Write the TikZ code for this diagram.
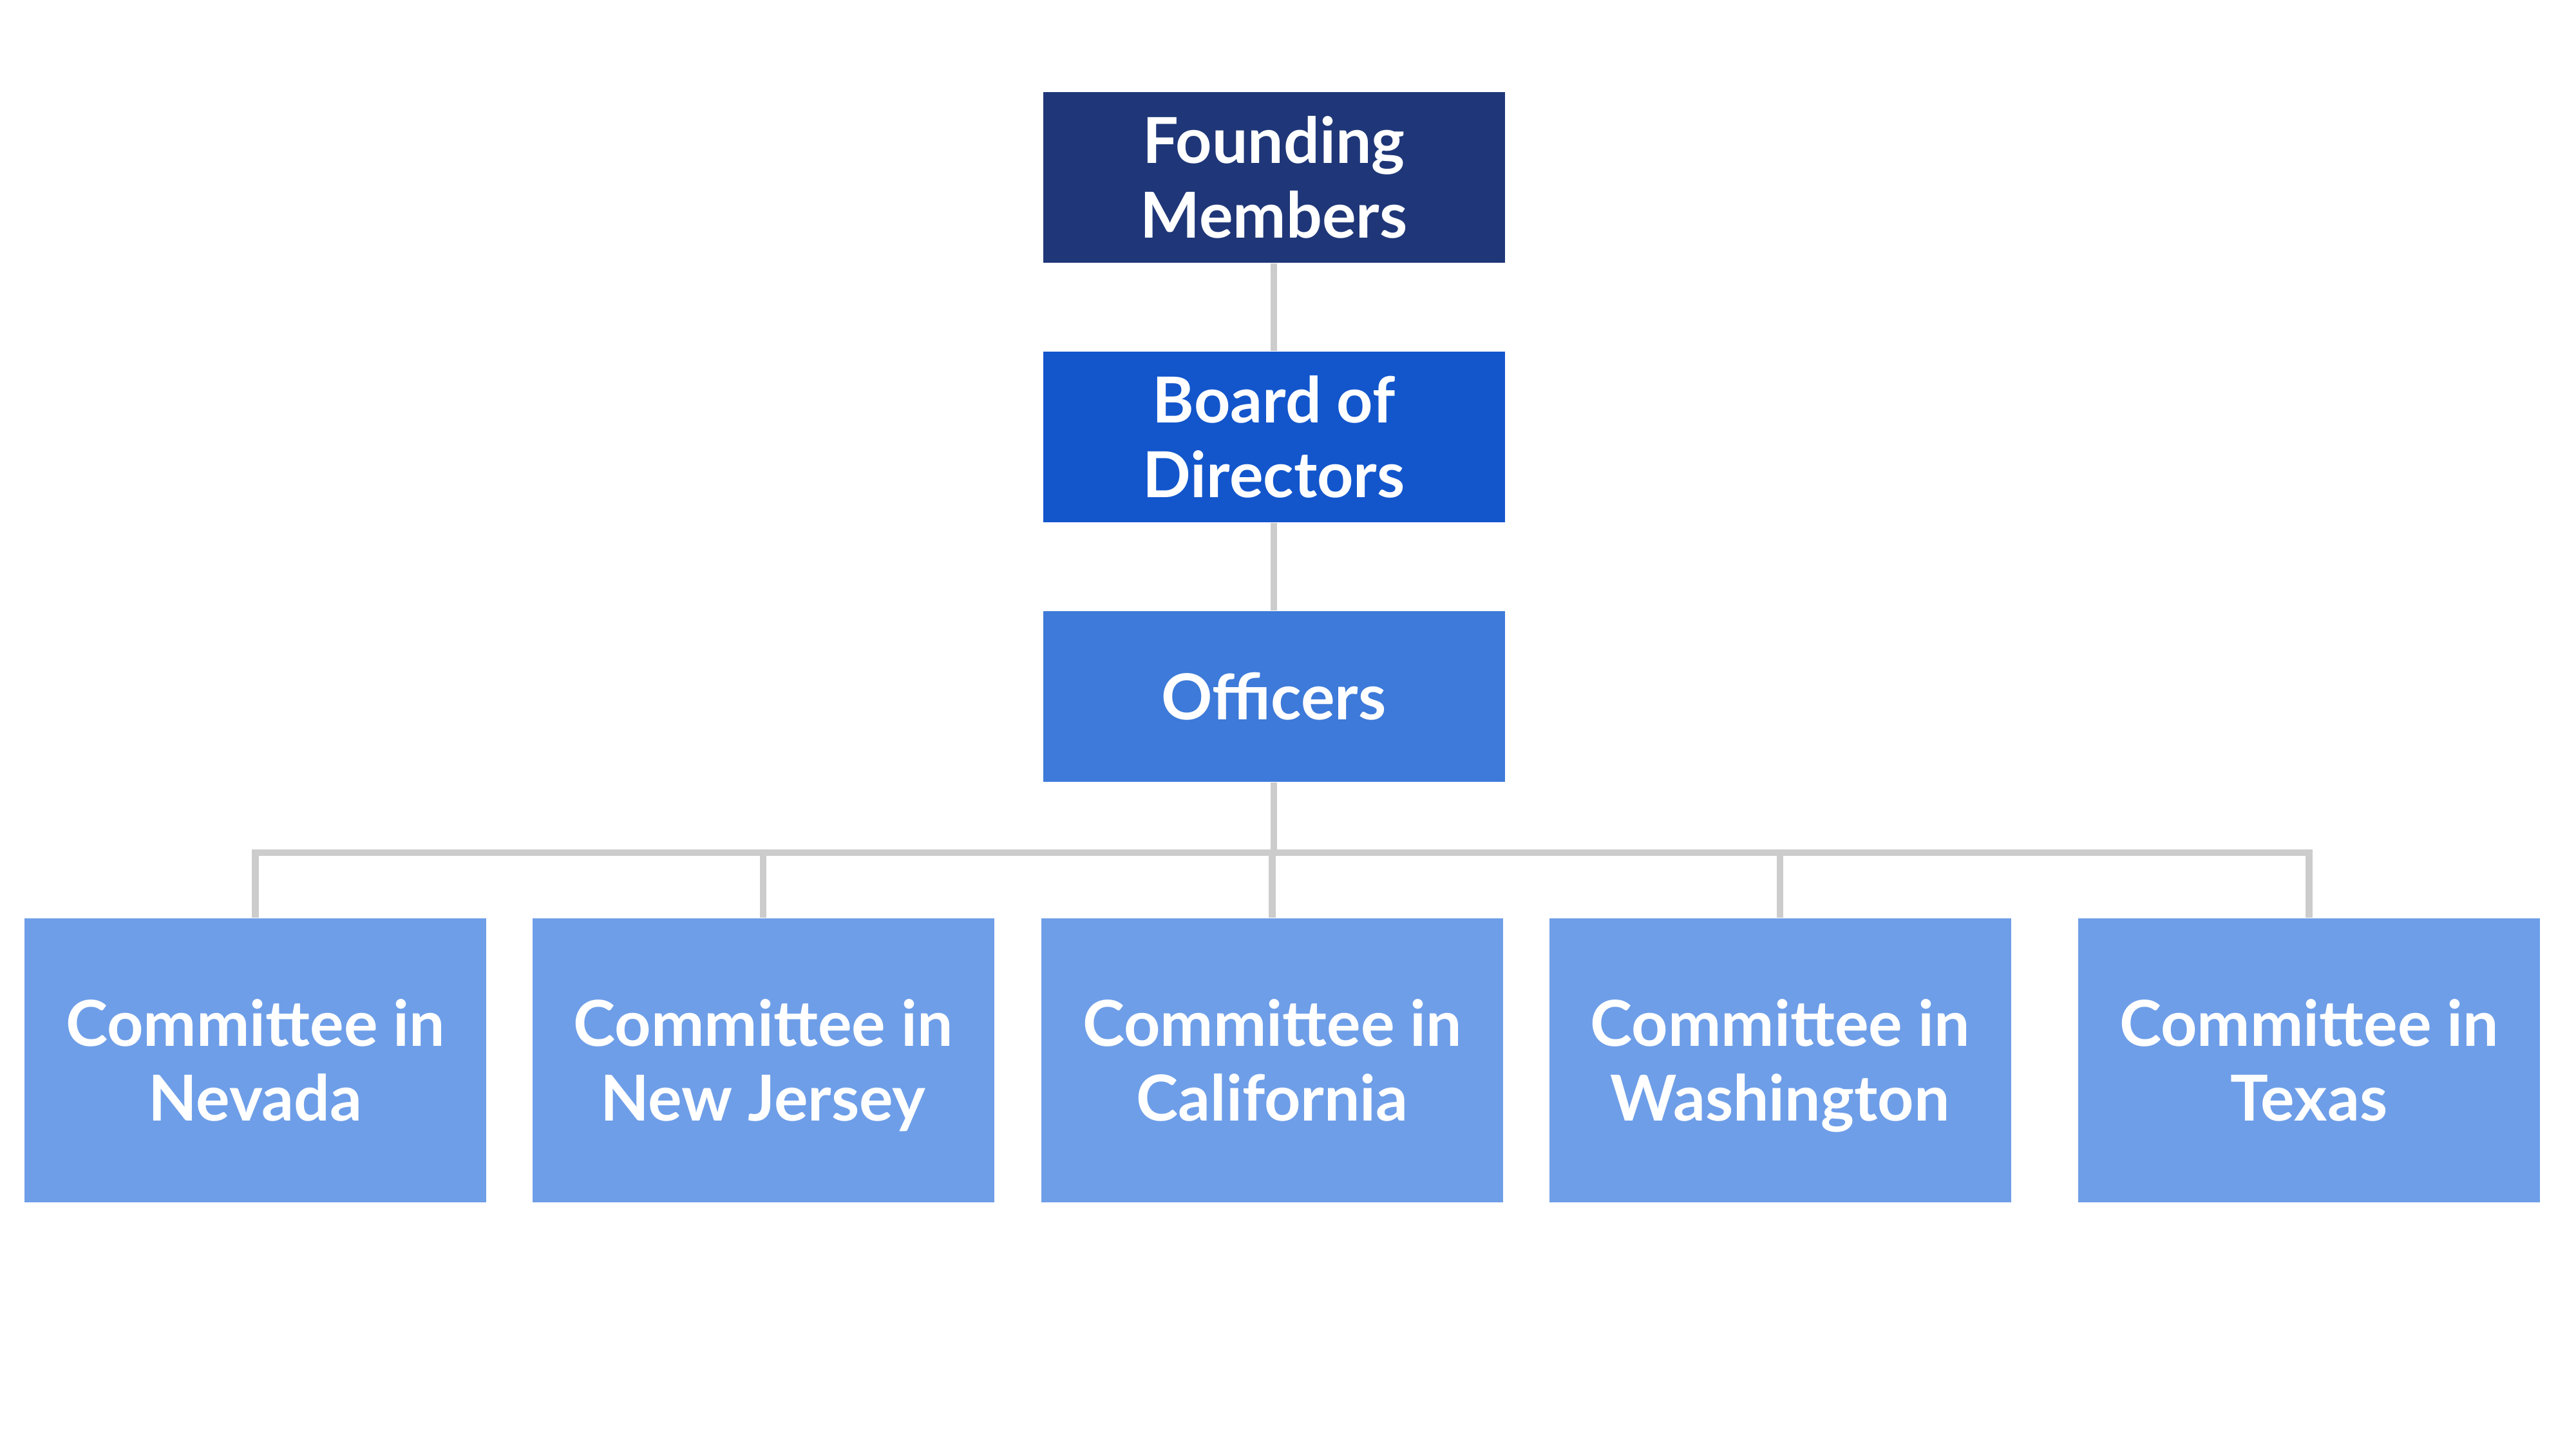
\documentclass[tikz,border=0pt]{standalone}
\usepackage{fontspec}
\setmainfont{Lato}
\usepackage{tikz}
\usetikzlibrary{positioning}
\definecolor{orgnavy}{RGB}{31,55,120}
\definecolor{orgblue}{RGB}{19,86,204}
\definecolor{orgmid}{RGB}{61,122,217}
\definecolor{orglight}{RGB}{110,158,232}
\definecolor{orggrey}{RGB}{204,204,204}
\tikzset{
  orgbox/.style={draw=none, align=center, text=white, font=\fontsize{28}{33}\selectfont\bfseries, minimum width=7.17cm, minimum height=2.65cm, inner sep=0pt},
  orgtop/.style={orgbox, fill=orgnavy},
  orgboard/.style={orgbox, fill=orgblue},
  orgoff/.style={orgbox, fill=orgmid},
  orgcom/.style={orgbox, fill=orglight, minimum height=4.41cm, text depth=0pt},
  orgline/.style={draw=orggrey, line width=3.1pt}
}

\begin{document}
\begin{tikzpicture}
  \useasboundingbox (0,0) rectangle (40,-22.5);
  \node[orgtop] (found) at (19.78,-2.755) {Founding\\Members};
  \node[orgboard] (board) at (19.78,-6.785) {Board of\\Directors};
  \node[orgoff] (off) at (19.78,-10.815) {Officers};
  \node[orgcom] (nev) at (3.965,-16.465) {Committee in\\Nevada};
  \node[orgcom] (nj) at (11.85,-16.465) {Committee in\\New Jersey};
  \node[orgcom] (cal) at (19.755,-16.465) {Committee in\\California};
  \node[orgcom] (wash) at (27.64,-16.465) {Committee in\\Washington};
  \node[orgcom] (tex) at (35.855,-16.465) {Committee in\\Texas};
  % tree lines
  \coordinate (bus) at (19.78,-13.24);
  \draw[orgline] (found) -- (board);
  \draw[orgline] (board) -- (off);
  \draw[orgline] (off.south) -- (bus);
  \foreach \c in {nev,nj,cal,wash,tex}
    \draw[orgline] (bus) -| (\c.north);
\end{tikzpicture}
\end{document}
